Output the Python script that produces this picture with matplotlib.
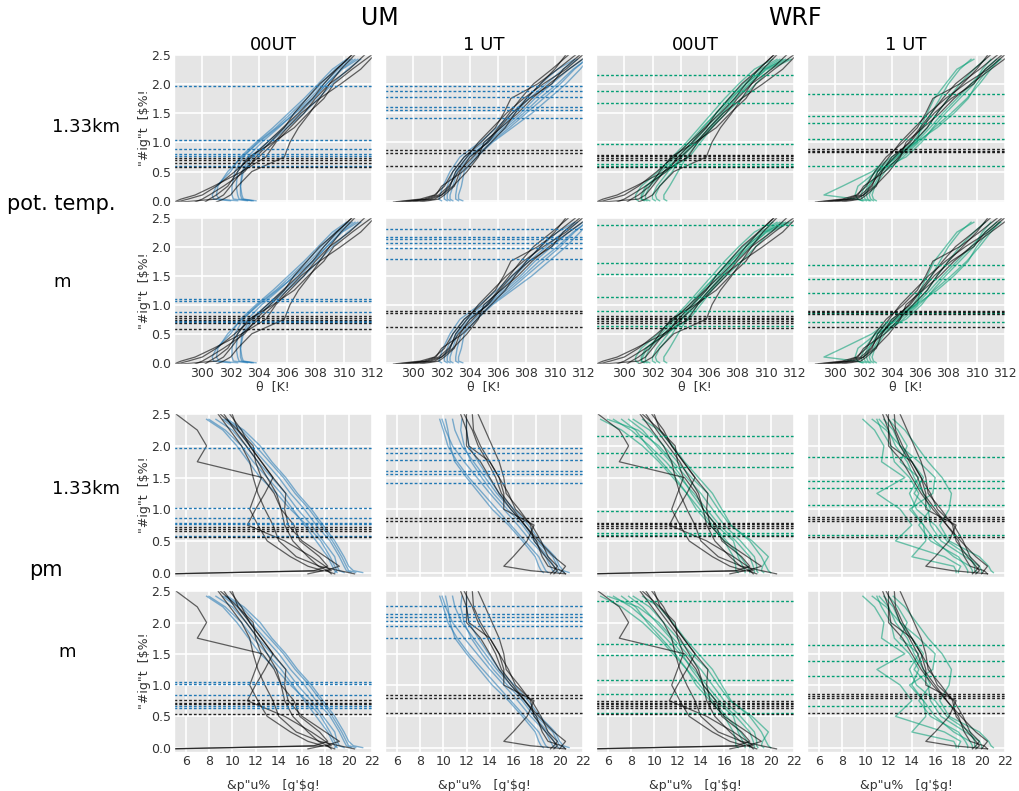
import matplotlib
matplotlib.use("Agg")
import matplotlib.pyplot as plt

plt.style.use("ggplot")
plt.rcParams['font.family'] = ['DejaVu Sans']

# ---------------- data ----------------
Z_OBS = [-0.02, 0.03, 0.1, 0.25, 0.5, 0.75, 1.0, 1.25, 1.5, 1.75, 2.0, 2.25, 2.5]
Z_MOD = [0.0, 0.03, 0.1, 0.25, 0.5, 0.75, 1.0, 1.25, 1.5, 1.75, 2.0, 2.25, 2.42]

THETA_OBS_00 = [
    [298.2, 299.0, 300.0, 301.0, 302.3, 303.5, 304.6, 305.7, 306.8, 307.8, 308.6, 309.5, 310.6],
    [298.5, 301.0, 301.5, 302.0, 302.8, 304.5, 305.2, 306.2, 307.2, 308.0, 309.0, 310.4, 311.5],
    [300.2, 300.5, 301.0, 301.8, 302.5, 303.3, 305.0, 306.5, 307.5, 308.6, 309.3, 310.6, 312.0],
    [301.0, 301.5, 302.0, 302.5, 303.5, 305.8, 306.2, 306.8, 307.6, 308.3, 309.8, 311.2, 312.2],
    [298.0, 298.5, 299.5, 300.8, 302.8, 304.0, 305.1, 306.0, 307.0, 308.3, 309.0, 309.8, 310.8],
    [299.5, 300.0, 300.5, 301.5, 303.0, 303.8, 304.8, 305.8, 306.5, 307.4, 308.3, 309.5, 310.6],
]
THETA_OBS_1 = [
    [298.6, 300.5, 301.5, 302.2, 302.8, 303.6, 304.8, 305.8, 306.4, 306.9, 308.8, 310.2, 311.5],
    [299.5, 301.0, 301.8, 302.5, 303.2, 304.2, 305.2, 306.0, 306.8, 307.6, 308.5, 309.8, 311.0],
    [300.0, 301.5, 302.0, 302.6, 303.0, 303.8, 304.6, 305.6, 306.6, 307.8, 309.2, 310.8, 312.0],
    [298.8, 300.8, 301.6, 302.0, 303.5, 304.5, 305.5, 306.5, 307.2, 308.0, 309.0, 310.0, 310.8],
    [299.2, 301.2, 302.0, 302.8, 303.8, 304.6, 305.0, 306.2, 307.4, 308.4, 309.6, 311.0, 312.4],
    [300.5, 301.8, 302.2, 302.9, 303.3, 304.0, 305.3, 306.1, 307.0, 308.2, 309.8, 310.6, 311.8],
]
THETA_UM_00 = [
    [303.5, 302.6, 302.5, 302.4, 302.5, 303.2, 304.2, 305.4, 306.5, 307.6, 308.6, 309.6, 310.6],
    [303.2, 302.2, 302.1, 302.1, 302.3, 302.9, 303.9, 305.2, 306.3, 307.4, 308.4, 309.4, 310.4],
    [303.8, 302.9, 302.8, 302.7, 302.8, 303.4, 304.6, 305.8, 306.9, 307.9, 308.8, 309.9, 311.0],
    [302.5, 301.2, 301.0, 301.1, 301.8, 302.8, 304.0, 305.3, 306.6, 307.8, 308.8, 309.8, 310.8],
    [302.0, 300.8, 300.7, 301.0, 302.0, 302.7, 303.8, 305.0, 306.1, 307.2, 308.2, 309.2, 310.2],
    [303.6, 302.8, 302.7, 302.7, 302.9, 303.6, 304.8, 306.0, 307.2, 308.2, 309.2, 310.3, 311.2],
]
THETA_UM_1 = [
    [302.4, 302.2, 302.2, 302.4, 302.8, 303.6, 305.0, 306.2, 307.2, 308.2, 309.4, 310.6, 311.6],
    [302.8, 302.6, 302.6, 302.8, 303.1, 304.0, 305.2, 306.4, 307.6, 308.6, 309.8, 311.0, 312.0],
    [303.2, 303.0, 303.0, 303.1, 303.4, 304.3, 305.5, 306.8, 308.0, 309.2, 310.4, 311.4, 312.2],
    [302.0, 301.8, 301.9, 302.1, 302.6, 303.3, 304.7, 305.9, 307.0, 308.0, 309.0, 310.2, 311.4],
    [303.5, 303.2, 303.2, 303.4, 303.6, 304.5, 305.6, 307.0, 308.4, 309.6, 310.8, 311.8, 312.4],
    [302.6, 302.4, 302.4, 302.6, 303.0, 303.8, 305.3, 306.6, 307.8, 308.9, 310.2, 311.3, 312.3],
]
THETA_WRF_00 = [
    [301.0, 300.8, 300.8, 301.2, 302.4, 303.4, 304.4, 305.3, 306.2, 307.1, 308.1, 309.2, 310.5],
    [301.8, 301.5, 301.5, 301.8, 302.8, 303.8, 304.8, 305.6, 306.5, 307.4, 308.4, 309.6, 310.8],
    [302.5, 302.3, 302.2, 302.5, 303.4, 304.0, 304.9, 305.8, 306.7, 307.6, 308.6, 309.8, 311.0],
    [303.0, 302.8, 302.8, 303.2, 303.8, 304.4, 305.2, 306.1, 307.0, 307.9, 308.9, 310.0, 311.2],
    [301.4, 301.2, 301.3, 301.6, 302.6, 303.6, 304.6, 305.5, 306.5, 307.5, 308.6, 309.9, 311.4],
    [302.2, 302.0, 302.0, 302.3, 303.1, 304.1, 305.1, 306.0, 306.9, 307.8, 308.8, 310.1, 311.6],
    [301.6, 301.2, 301.2, 301.5, 302.9, 304.6, 305.4, 306.2, 307.2, 308.3, 309.3, 310.3, 311.8],
]
THETA_WRF_1 = [
    [302.0, 301.5, 299.2, 300.5, 302.6, 304.0, 305.5, 306.2, 306.8, 307.4, 308.0, 308.8, 309.6],
    [302.5, 302.3, 302.2, 302.4, 303.0, 304.4, 305.7, 306.7, 307.6, 308.6, 309.6, 310.6, 311.4],
    [302.9, 302.7, 302.6, 302.8, 303.5, 304.8, 305.9, 307.0, 308.2, 309.3, 310.2, 311.0, 311.6],
    [302.2, 301.9, 301.8, 302.1, 302.8, 304.2, 305.6, 306.5, 307.2, 308.0, 308.8, 309.8, 310.6],
    [302.7, 302.5, 302.4, 302.7, 303.3, 304.6, 305.8, 306.0, 306.5, 307.0, 307.8, 308.6, 309.8],
    [301.9, 301.6, 301.4, 301.6, 302.9, 305.0, 306.1, 306.9, 307.8, 308.8, 309.8, 310.4, 311.0],
    [302.4, 302.1, 302.0, 302.3, 303.2, 304.3, 305.7, 307.2, 308.4, 309.4, 310.0, 310.8, 311.7],
]

Q_OBS_00 = [
    [18.5, 18.2, 17.4, 16.5, 15.2, 14.5, 14.2, 13.6, 12.6, 7.0, 7.8, 7.0, 5.2],
    [4.0, 18.5, 18.0, 16.8, 14.5, 11.3, 12.0, 12.8, 13.5, 12.5, 11.5, 10.5, 9.0],
    [20.5, 19.2, 17.5, 15.5, 14.0, 13.5, 12.8, 12.2, 11.8, 11.5, 10.8, 9.8, 8.8],
    [18.8, 18.0, 19.2, 18.0, 16.0, 14.8, 14.5, 14.6, 13.5, 12.5, 11.5, 10.8, 9.8],
    [16.5, 17.8, 16.5, 15.0, 13.0, 12.2, 11.5, 12.0, 12.5, 12.0, 11.8, 10.5, 10.0],
    [5.0, 17.0, 18.2, 17.5, 15.8, 15.3, 14.2, 13.8, 13.0, 12.2, 11.2, 10.2, 9.3],
]
Q_OBS_1 = [
    [20.5, 17.5, 15.2, 16.0, 17.2, 17.8, 15.2, 15.2, 14.8, 14.0, 12.2, 12.0, 11.5],
    [20.0, 20.2, 20.5, 19.5, 18.2, 17.0, 16.0, 15.0, 14.5, 13.8, 13.0, 12.5, 11.8],
    [19.5, 19.8, 19.5, 18.8, 17.8, 17.5, 16.5, 15.4, 15.2, 14.8, 14.2, 13.6, 13.0],
    [20.5, 20.2, 19.0, 18.5, 18.0, 17.0, 15.8, 14.8, 14.0, 13.2, 12.0, 12.0, 12.0],
    [19.2, 19.5, 19.8, 19.0, 18.4, 17.6, 16.2, 15.6, 14.8, 14.0, 13.2, 12.6, 12.5],
]
Q_UM_00 = [
    [19.0, 18.8, 18.6, 18.2, 17.2, 16.2, 15.2, 14.2, 13.0, 11.8, 10.8, 9.4, 8.0],
    [19.6, 19.2, 19.0, 18.8, 17.8, 16.8, 15.6, 14.6, 13.4, 12.2, 11.2, 10.0, 8.6],
    [20.2, 19.8, 19.6, 19.2, 18.4, 17.2, 16.2, 15.0, 14.0, 12.8, 11.6, 10.4, 9.2],
    [21.2, 20.4, 20.0, 19.6, 18.8, 17.8, 16.8, 15.6, 14.6, 13.4, 12.4, 11.0, 9.6],
    [18.8, 19.0, 18.8, 18.4, 17.6, 16.4, 15.0, 13.8, 12.4, 11.4, 10.4, 9.2, 7.8],
    [20.6, 20.0, 19.8, 19.4, 18.6, 17.6, 16.6, 15.4, 14.4, 13.2, 12.0, 10.8, 9.4],
]
Q_UM_1 = [
    [19.0, 18.8, 18.6, 18.2, 17.0, 15.8, 14.6, 13.4, 12.2, 11.2, 10.4, 10.0, 9.7],
    [19.6, 19.4, 19.2, 18.8, 17.5, 16.4, 15.2, 14.0, 12.9, 11.8, 10.8, 10.2, 9.9],
    [20.4, 20.0, 19.8, 19.4, 18.0, 17.0, 15.8, 14.6, 13.6, 12.6, 11.6, 11.0, 10.8],
    [18.6, 18.4, 18.2, 17.9, 16.8, 15.6, 14.2, 13.1, 12.0, 11.0, 10.6, 10.4, 10.2],
    [19.9, 19.7, 19.5, 19.0, 17.8, 16.8, 15.5, 14.3, 13.3, 12.4, 11.8, 11.5, 11.6],
    [20.8, 20.3, 20.0, 19.6, 18.3, 17.3, 16.1, 14.8, 13.9, 13.0, 12.2, 12.0, 12.0],
]
Q_WRF_00 = [
    [18.2, 18.2, 18.0, 17.4, 16.2, 15.0, 13.9, 12.8, 11.6, 10.4, 9.0, 7.2, 5.4],
    [18.6, 18.6, 18.5, 18.2, 17.0, 15.6, 14.5, 13.4, 12.2, 11.0, 9.6, 8.0, 6.5],
    [19.4, 19.2, 19.3, 19.8, 18.4, 16.5, 15.5, 14.6, 13.2, 12.0, 10.8, 9.6, 8.2],
    [17.2, 17.0, 17.0, 16.8, 16.0, 14.8, 13.6, 12.8, 11.8, 10.6, 9.4, 8.4, 7.2],
    [20.0, 19.8, 19.6, 19.2, 18.2, 16.6, 15.8, 15.0, 13.8, 12.6, 11.6, 10.4, 9.0],
    [17.8, 17.8, 17.6, 17.2, 16.8, 15.3, 14.2, 13.2, 12.4, 11.4, 10.2, 9.0, 7.8],
    [18.9, 18.8, 18.8, 18.6, 17.4, 16.0, 15.0, 14.0, 12.8, 11.6, 10.4, 8.6, 6.0],
]
Q_WRF_1 = [
    [18.0, 18.0, 18.2, 16.8, 12.6, 14.0, 13.0, 11.0, 13.4, 11.4, 11.6, 10.8, 9.8],
    [19.2, 19.2, 19.0, 17.6, 16.0, 15.0, 14.0, 14.6, 13.8, 12.5, 12.2, 11.4, 11.0],
    [20.0, 20.0, 19.8, 18.6, 16.5, 15.6, 15.4, 14.2, 15.0, 14.0, 13.0, 12.4, 11.6],
    [21.0, 20.8, 20.6, 19.8, 17.2, 16.4, 17.2, 17.4, 16.6, 15.4, 14.4, 13.4, 12.4],
    [18.8, 18.8, 18.6, 18.0, 15.6, 14.6, 15.6, 15.0, 14.2, 13.6, 12.6, 12.0, 11.2],
    [19.6, 19.4, 19.4, 19.0, 17.0, 16.0, 14.4, 13.8, 14.6, 13.0, 13.6, 12.8, 12.0],
    [17.8, 17.8, 17.6, 14.0, 15.2, 15.0, 13.8, 15.8, 16.0, 14.6, 13.0, 11.8, 10.6],
]

# boundary-layer heights [km]: model (coloured) and observed (black), per row/column
BL_MOD = {
    (0, 0): [1.966, 1.046, 0.885, 0.793, 0.759, 0.598],
    (0, 1): [1.966, 1.885, 1.77, 1.61, 1.55, 1.42],
    (0, 2): [2.155, 1.885, 1.667, 0.966, 0.63, 0.60],
    (0, 3): [1.83, 1.45, 1.33, 1.06, 0.59],
    (1, 0): [1.10, 1.06, 0.88, 0.72, 0.70],
    (1, 1): [2.30, 2.16, 2.13, 2.07, 1.98, 1.79],
    (1, 2): [2.38, 1.71, 1.53, 1.13, 0.90, 0.64],
    (1, 3): [1.68, 1.44, 1.20, 0.85, 0.71],
    (2, 0): [1.96, 1.02, 0.86, 0.78, 0.76, 0.58],
    (2, 1): [1.966, 1.885, 1.77, 1.61, 1.55, 1.42],
    (2, 2): [2.155, 1.885, 1.667, 0.966, 0.63, 0.60],
    (2, 3): [1.83, 1.45, 1.33, 1.06, 0.59],
    (3, 0): [1.048, 1.01, 0.835, 0.67, 0.63],
    (3, 1): [2.27, 2.13, 2.09, 2.02, 1.95, 1.76],
    (3, 2): [2.35, 1.66, 1.48, 1.08, 0.85, 0.56],
    (3, 3): [1.64, 1.39, 1.15, 0.66],
}
BL_OBS = {
    (0, 0): [0.724, 0.69, 0.655, 0.575],
    (0, 1): [0.862, 0.82, 0.59],
    (0, 2): [0.79, 0.76, 0.73, 0.70, 0.575],
    (0, 3): [0.88, 0.85, 0.83],
    (1, 0): [0.80, 0.77, 0.74, 0.68, 0.59],
    (1, 1): [0.89, 0.85, 0.61],
    (1, 2): [0.81, 0.78, 0.75, 0.72, 0.69, 0.60],
    (1, 3): [0.90, 0.87, 0.84, 0.61],
    (2, 0): [0.72, 0.69, 0.65, 0.555],
    (2, 1): [0.86, 0.81, 0.56],
    (2, 2): [0.79, 0.76, 0.73, 0.70, 0.575],
    (2, 3): [0.87, 0.84, 0.81, 0.56],
    (3, 0): [0.76, 0.72, 0.69, 0.54],
    (3, 1): [0.84, 0.80, 0.55],
    (3, 2): [0.75, 0.72, 0.69, 0.66, 0.63, 0.53],
    (3, 3): [0.85, 0.82, 0.80, 0.55],
}

COL_TITLES = ["00UT", "1 UT", "00UT", "1 UT"]
MODEL_TITLES = ["UM", "WRF"]
Y_TICKS = [0.0, 0.5, 1.0, 1.5, 2.0, 2.5]
THETA_TICKS = [300, 302, 304, 306, 308, 310, 312]
Q_TICKS = [6, 8, 10, 12, 14, 16, 18, 20, 22]
YLABEL = '"#ig"t  [$%!'
XLABEL_THETA = 'θ  [K!'
XLABEL_Q = '&p"u%   [g\'$g!'

BLUE = '#1f77b4'
GREEN = '#009e73'

# ---------------- layout ----------------
W, H = 1020, 791
fig = plt.figure(figsize=(W / 100, H / 100), dpi=100)

col_left = [174, 385, 596, 807]
col_w = 198
row_span = [(54, 202), (217, 364), (413, 577), (590, 752)]

obs_sets = {(0, 0): THETA_OBS_00, (0, 1): THETA_OBS_1, (1, 0): Q_OBS_00, (1, 1): Q_OBS_1}
mod_sets = {
    (0, 0): THETA_UM_00, (0, 1): THETA_UM_1, (0, 2): THETA_WRF_00, (0, 3): THETA_WRF_1,
    (1, 0): Q_UM_00, (1, 1): Q_UM_1, (1, 2): Q_WRF_00, (1, 3): Q_WRF_1,
}

for r in range(4):
    var = 0 if r < 2 else 1
    for c in range(4):
        y0, y1 = row_span[r]
        ax = fig.add_axes([col_left[c] / W, 1 - y1 / H, col_w / W, (y1 - y0) / H])
        color = BLUE if c < 2 else GREEN
        for prof in mod_sets[(var, c)]:
            ax.plot(prof, Z_MOD, color=color, lw=1.0, alpha=0.55)
        for prof in obs_sets[(var, c % 2)]:
            ax.plot(prof, Z_OBS, color='black', lw=0.9, alpha=0.6)
        for h in BL_MOD[(r, c)]:
            ax.axhline(h, color=color, lw=1.0, ls=(0, (2, 1.5)))
        for h in BL_OBS[(r, c)]:
            ax.axhline(h, color='black', lw=1.0, ls=(0, (2, 1.5)), alpha=0.85)
        if var == 0:
            ax.set_xlim(298, 312)
            ax.set_xticks(THETA_TICKS)
            ax.set_ylim(-0.02, 2.51)
        else:
            ax.set_xlim(5, 22)
            ax.set_xticks(Q_TICKS)
            ax.set_ylim(-0.07, 2.52)
        ax.set_yticks(Y_TICKS)
        ax.tick_params(length=0, labelsize=9, labelcolor='#333333', pad=2)
        ax.grid(True, color='white', lw=1.2)
        if c == 0:
            ax.set_yticklabels([f"{v:.1f}" for v in Y_TICKS])
            ax.set_ylabel(YLABEL, fontsize=9, color='#333333', labelpad=0)
        else:
            ax.set_yticklabels([])
        if r in (0, 2):
            ax.set_xticklabels([])
        elif r == 1:
            ax.set_xlabel(XLABEL_THETA, fontsize=9, color='#333333', labelpad=0)
        else:
            ax.set_xlabel(XLABEL_Q, fontsize=9, color='#333333', labelpad=8)
        if r == 0:
            ax.set_title(COL_TITLES[c], fontsize=13, pad=3)

fig.text(380 / W, 1 - 18 / H, MODEL_TITLES[0], fontsize=17, ha='center', va='center')
fig.text(795 / W, 1 - 18 / H, MODEL_TITLES[1], fontsize=17, ha='center', va='center')

row_texts = [
    ("1.33km", 86, 127, 13), ("pot. temp.", 61, 204, 15), ("m", 62, 282, 13),
    ("1.33km", 86, 489, 13), ("pm", 46, 570, 15), ("m", 67, 652, 13),
]
for t, x, y, fs in row_texts:
    fig.text(x / W, 1 - y / H, t, fontsize=fs, ha='center', va='center')

fig.savefig("out.png", dpi=100)
